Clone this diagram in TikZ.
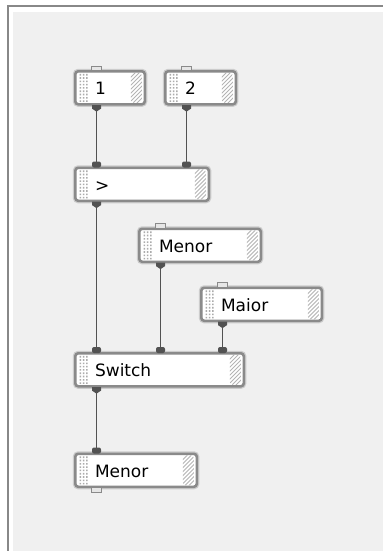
\documentclass[tikz,border=0pt]{standalone}
\usepackage{fontspec}
\newfontfamily\blkfont{DejaVu Sans}
\usetikzlibrary{calc}

\definecolor{panel}{HTML}{F0F0F0}
\definecolor{frameline}{HTML}{888888}
\definecolor{boxedge}{HTML}{8A8A8A}
\definecolor{boxhalo}{HTML}{CCCCCC}
\definecolor{portdark}{HTML}{525252}
\definecolor{tabfill}{HTML}{E6E6E6}
\definecolor{gripgray}{HTML}{ACACAC}
\definecolor{hatchgray}{HTML}{B4B4B4}

% port glyphs
\newcommand\outport[1]{\fill[portdark] ([shift={(-4.5,-0.5)}]#1) -- ++(9,0) -- ++(0,3.5) -- ++(-4.5,3) -- ++(-4.5,-3) -- cycle;}
\newcommand\inport[1]{\fill[portdark, rounded corners=2pt] ([shift={(-4.5,1)}]#1) -- ++(0,-6) -- ++(9,0) -- ++(0,6) -- cycle;}
\newcommand\freetabup[1]{\filldraw[draw=boxedge, fill=tabfill, line width=0.9pt] ([shift={(-5,0)}]#1) -- ++(0,-4) -- ++(10,0) -- ++(0,4);}
\newcommand\freetabdown[1]{\filldraw[draw=boxedge, fill=tabfill, line width=0.9pt] ([shift={(-5,0)}]#1) -- ++(0,4.5) -- ++(10,0) -- ++(0,-4.5);}

\tikzset{
  gripdot/.style={fill=gripgray, sharp corners},
  hatchline/.style={draw=hatchgray, line width=0.9pt, sharp corners},
  wire/.style={draw=portdark, line width=1.9pt},
  blk/.style={
    draw=boxedge, line width=2.6pt, rounded corners=3pt, fill=white,
    preaction={draw=boxhalo, line width=5pt},
    anchor=north west, inner xsep=19.75pt, inner ysep=0pt,
    minimum height=33pt, text height=13.5pt, text depth=0pt,
    align=left, font=\blkfont\fontsize{17}{20}\selectfont, text=black,
    path picture={
      \fill[gripdot] foreach \i in {0,1,2} { foreach \j in {0,...,8}
        { ([shift={(4.2+3.3*\i, 2.6+3.3*\j)}]path picture bounding box.north west) rectangle ++(1.6,1.6) } };
      \begin{scope}
        \clip ([shift={(-14,1.5)}]path picture bounding box.north east)
          rectangle ([shift={(-3,-1.5)}]path picture bounding box.south east);
        \foreach \k in {0,...,12}
          \draw[hatchline] ([shift={(-46+4*\k, 34)}]path picture bounding box.north east) -- ++(36,-36);
      \end{scope}
    }
  }
}

\begin{document}
\begin{tikzpicture}[x=1pt,y=-1pt]
  % canvas and sunken panel
  \useasboundingbox (0,0) rectangle (383,551);
  \fill[white] (0,0) rectangle (383,551);
  \fill[panel] (12.5,12) rectangle (383,551);
  \draw[frameline, line width=1.1pt] (8,551) -- (8,6) -- (383,6);

  % blocks
  \node[blk, text width=30pt] (n1) at (74,70) {1};
  \node[blk, text width=31pt] (n2) at (164,70) {2};
  \node[blk, text width=94pt] (gt) at (74,166.5) {>};
  \node[blk, text width=82pt] (lo) at (138,227.5) {Menor};
  \node[blk, text width=81pt] (hi) at (200,286.5) {Maior};
  \node[blk, text width=129pt] (sw) at (74,352) {Switch};
  \node[blk, text width=82pt] (res) at (74,452.5) {Menor};

  % output port positions
  \coordinate (n1-o) at ([xshift=22.5pt]n1.south west);
  \coordinate (n2-o) at ([xshift=22.5pt]n2.south west);
  \coordinate (gt-o) at ([xshift=22.5pt]gt.south west);
  \coordinate (lo-o) at ([xshift=22.5pt]lo.south west);
  \coordinate (hi-o) at ([xshift=22.5pt]hi.south west);
  \coordinate (sw-o) at ([xshift=22.5pt]sw.south west);
  \coordinate (res-o) at ([xshift=22.5pt]res.south west);

  % connectors
  \draw[wire] (n1-o) -- (gt.north -| n1-o);
  \draw[wire] (n2-o) -- (gt.north -| n2-o);
  \draw[wire] (gt-o) -- (sw.north -| gt-o);
  \draw[wire] (lo-o) -- (sw.north -| lo-o);
  \draw[wire] (hi-o) -- (sw.north -| hi-o);
  \draw[wire] (sw-o) -- (res.north -| sw-o);

  % unconnected ports
  \freetabup{n1.north -| n1-o}
  \freetabup{n2.north -| n2-o}
  \freetabup{lo.north -| lo-o}
  \freetabup{hi.north -| hi-o}
  \freetabdown{res-o}

  % connected ports
  \outport{n1-o}
  \outport{n2-o}
  \outport{gt-o}
  \outport{lo-o}
  \outport{hi-o}
  \outport{sw-o}
  \inport{gt.north -| n1-o}
  \inport{gt.north -| n2-o}
  \inport{sw.north -| gt-o}
  \inport{sw.north -| lo-o}
  \inport{sw.north -| hi-o}
  \inport{res.north -| sw-o}
\end{tikzpicture}
\end{document}
